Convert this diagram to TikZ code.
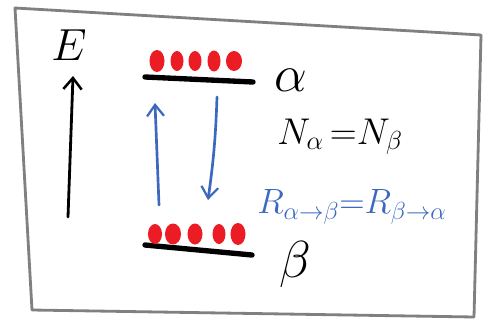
\RequirePackage{fix-cm}
\documentclass[tikz,border=0pt]{standalone}
\usepackage{tikz}
\usetikzlibrary{arrows.meta,positioning}

\definecolor{penred}{HTML}{EC1C24}
\definecolor{penblue}{HTML}{3D68C0}
\definecolor{pengray}{HTML}{808080}

\begin{document}
\begin{tikzpicture}[
    x=0.25mm, y=-0.25mm,
    frame/.style={draw=pengray, line width=2pt, line join=round},
    level/.style={draw=black, line width=3.8pt, line cap=round},
    dot/.style={fill=penred, draw=none},
    trans/.style={-{Straight Barb[length=8pt, width=12pt, line width=1.6pt]},
                  penblue, line width=1.9pt, line cap=round},
    eaxis/.style={-{Straight Barb[length=8pt, width=13pt, line width=1.8pt]},
                  black, line width=2pt, line cap=round},
    lab/.style={inner sep=0pt, font=\fontsize{37}{37}\selectfont},
    eqn/.style={inner sep=0pt, font=\fontsize{26.5}{26.5}\selectfont},
    rate/.style={inner sep=0pt, text=penblue, font=\fontsize{25}{25}\selectfont}
]
\useasboundingbox (0,0) rectangle (492,324);

% cadre
\draw[frame] (15,8) -- (481,35) -- (474,317) -- (32,310) -- cycle;

% axe d'energie
\node[inner sep=0pt, font=\fontsize{32}{32}\selectfont] (E) at (69,45) {$E$};
\coordinate (ebot) at (68,217);
\coordinate (etop) at (73,76);
\draw[eaxis] (ebot) -- (etop);

% niveaux
\coordinate (a1) at (145,77);
\coordinate (a2) at (253,82);
\coordinate (b1) at (145,245);
\coordinate (b2) at (252,255);
\draw[level] (a1) -- (a2);
\draw[level] (b1) -- (b2);

% populations
\foreach \x/\w/\h in {157/7.5/11, 177/6.5/10, 195/6.5/10, 214/6.5/10.5, 234/8/10}
  \fill[dot] (\x,61) ellipse ({\w} and {\h});
\foreach \x/\w/\h in {155/7/10, 173/8/10.5, 195/7.5/10.5, 219/6.5/10, 238/7.5/11}
  \fill[dot] (\x,234) ellipse ({\w} and {\h});

% labels des niveaux
\node[lab] (alpha) at (291,80) {$\alpha$};
\node[lab] (beta) at (295,264) {$\beta$};

% transitions
\coordinate (upfoot) at (159,205);
\coordinate (uptip) at (155,103);
\coordinate (dnfoot) at (217,97);
\coordinate (dntip) at (208,200);
\draw[trans] (upfoot) -- (uptip);
\draw[trans] (dnfoot) to[bend left=3] (dntip);

% equilibre
\node[eqn] (pop) at (340,137) {$N_{\alpha}\,{=}N_{\beta}$};
\node[rate] (rates) at (352,207) {$R_{\alpha\to\beta}{=}R_{\beta\to\alpha}$};
\end{tikzpicture}
\end{document}
